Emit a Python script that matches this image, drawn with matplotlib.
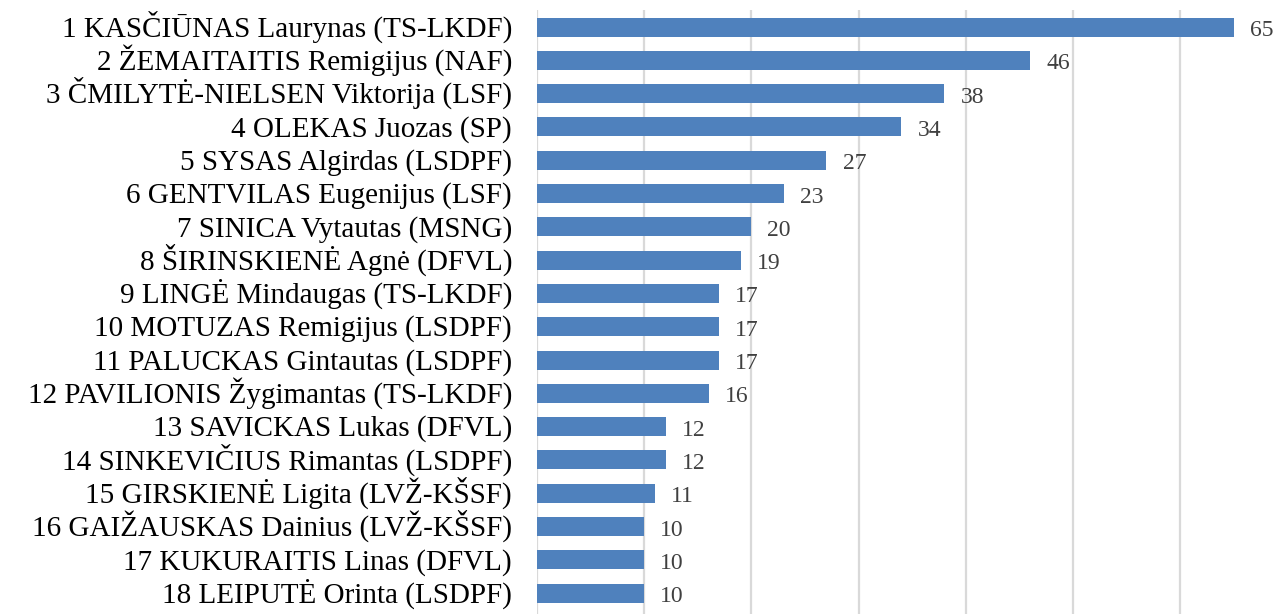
import matplotlib.pyplot as plt

# candidates and their counts
names = [
    '1 KASČIŪNAS Laurynas (TS-LKDF)',
    '2 ŽEMAITAITIS Remigijus (NAF)',
    '3 ČMILYTĖ-NIELSEN Viktorija (LSF)',
    '4 OLEKAS Juozas (SP)',
    '5 SYSAS Algirdas (LSDPF)',
    '6 GENTVILAS Eugenijus (LSF)',
    '7 SINICA Vytautas (MSNG)',
    '8 ŠIRINSKIENĖ Agnė (DFVL)',
    '9 LINGĖ Mindaugas (TS-LKDF)',
    '10 MOTUZAS Remigijus (LSDPF)',
    '11 PALUCKAS Gintautas (LSDPF)',
    '12 PAVILIONIS Žygimantas (TS-LKDF)',
    '13 SAVICKAS Lukas (DFVL)',
    '14 SINKEVIČIUS Rimantas (LSDPF)',
    '15 GIRSKIENĖ Ligita (LVŽ-KŠSF)',
    '16 GAIŽAUSKAS Dainius (LVŽ-KŠSF)',
    '17 KUKURAITIS Linas (DFVL)',
    '18 LEIPUTĖ Orinta (LSDPF)',
]
values = [65, 46, 38, 34, 27, 23, 20, 19, 17, 17, 17, 16, 12, 12, 11, 10, 10, 10]

plt.rcParams['font.family'] = ['Liberation Serif', 'DejaVu Serif']

W, H = 1284, 614
fig = plt.figure(figsize=(W / 100, H / 100), dpi=100)
x0, x70 = 537, 537 + 7 * 107.2
top, bot = 10.4, 616
ax = fig.add_axes([x0 / W, 1 - bot / H, (x70 - x0) / W, (bot - top) / H])

y = list(range(len(names)))
ax.barh(y, values, height=0.57, color='#4F81BD', zorder=3)
ax.set_ylim(-0.5 + (bot - top) / 33.3, -0.5)
ax.set_xlim(0, 70)
ax.set_yticks([])
ax.set_xticks(range(0, 71, 10))
ax.tick_params(axis='x', length=0, labelbottom=False)
ax.grid(axis='x', color='#D9D9D9', lw=1.6, zorder=0)
for s in ax.spines.values():
    s.set_visible(False)

# category labels, placed by baseline so accents don't shift them
for yi, name in zip(y, names):
    ax.text(-25 / 107.2 * 10, yi + 0.28, name, ha='right', va='baseline',
            fontsize=21, color='black', clip_on=False)

for yi, v in zip(y, values):
    ax.text(v + 1.5, yi + 0.27, str(v), va='baseline', ha='left',
            fontsize=17, color='#404040')

fig.savefig('out.png', dpi=100)
